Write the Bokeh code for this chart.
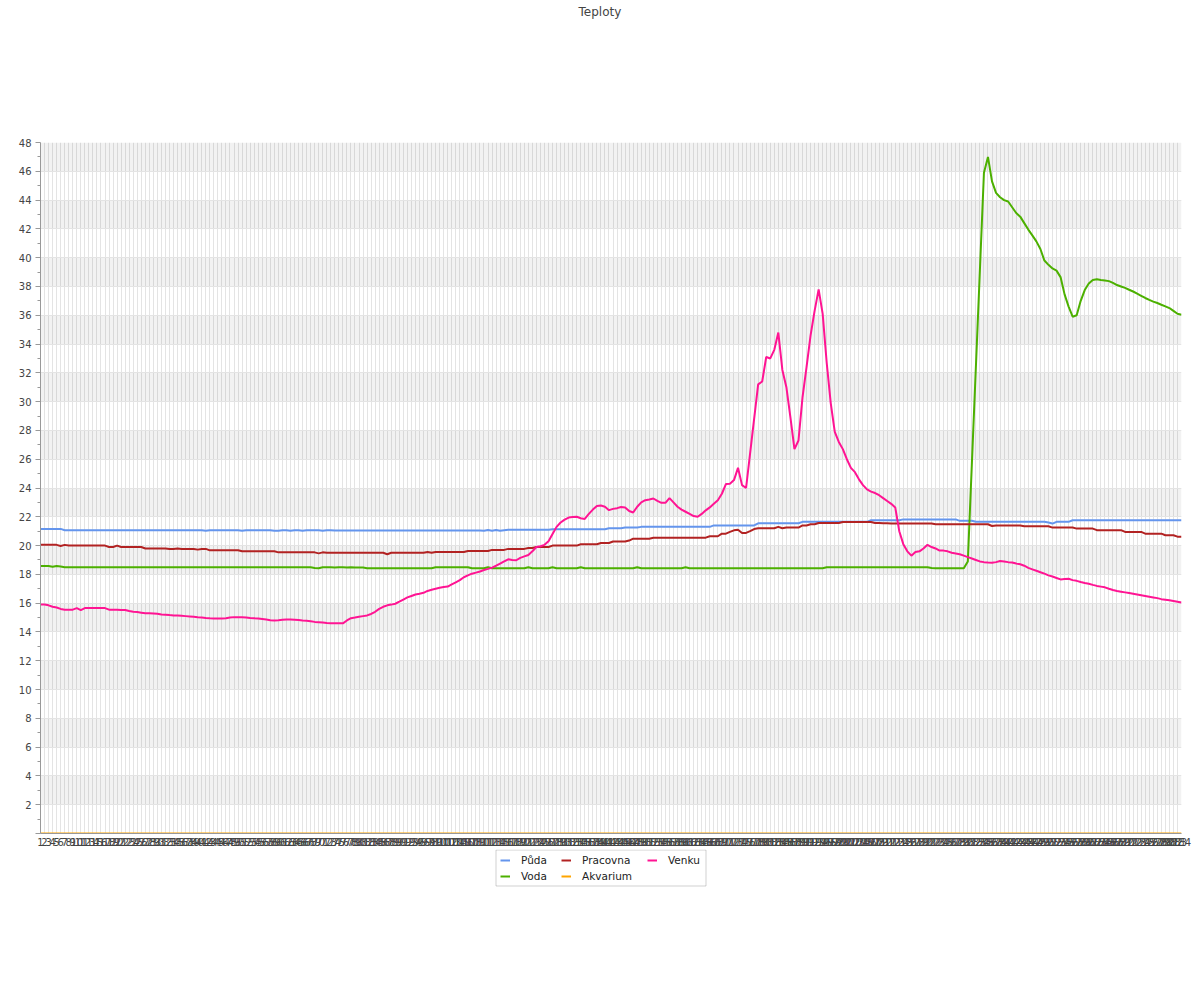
from bokeh.plotting import figure
from bokeh.layouts import column
from bokeh.models import Range1d, FixedTicker, Legend, LegendItem, Title, BoxAnnotation
from bokeh.embed import file_html
from bokeh.resources import INLINE

# categories (sample numbers) 1..284
categories = list(range(1, 285))

puda = [
    21.16, 21.16, 21.16, 21.16, 21.16, 21.16, 21.07, 21.07, 21.07, 21.07,
    21.07, 21.07, 21.07, 21.07, 21.07, 21.07, 21.07, 21.07, 21.07, 21.07,
    21.07, 21.07, 21.07, 21.07, 21.07, 21.07, 21.07, 21.07, 21.07, 21.07,
    21.07, 21.07, 21.07, 21.07, 21.07, 21.07, 21.07, 21.07, 21.07, 21.07,
    21.07, 21.03, 21.07, 21.07, 21.07, 21.07, 21.07, 21.07, 21.07, 21.07,
    21.03, 21.07, 21.07, 21.07, 21.07, 21.07, 21.07, 21.07, 21.03, 21.03,
    21.07, 21.07, 21.03, 21.07, 21.07, 21.03, 21.07, 21.07, 21.07, 21.07,
    21.03, 21.07, 21.07, 21.05, 21.05, 21.05, 21.05, 21.05, 21.05, 21.05,
    21.05, 21.05, 21.05, 21.05, 21.05, 21.05, 21.05, 21.05, 21.05, 21.05,
    21.05, 21.05, 21.05, 21.05, 21.05, 21.05, 21.05, 21.05, 21.05, 21.05,
    21.05, 21.05, 21.05, 21.05, 21.05, 21.05, 21.05, 21.05, 21.05, 21.05,
    21.03, 21.08, 21.03, 21.08, 21.03, 21.07, 21.1, 21.1, 21.1, 21.1,
    21.1, 21.1, 21.1, 21.1, 21.1, 21.1, 21.1, 21.13, 21.13, 21.13,
    21.13, 21.13, 21.13, 21.13, 21.13, 21.13, 21.13, 21.13, 21.13, 21.13,
    21.13, 21.2, 21.2, 21.2, 21.2, 21.25, 21.25, 21.25, 21.25, 21.3,
    21.3, 21.3, 21.3, 21.3, 21.3, 21.3, 21.3, 21.3, 21.3, 21.3,
    21.3, 21.3, 21.3, 21.3, 21.3, 21.3, 21.3, 21.4, 21.4, 21.4,
    21.4, 21.4, 21.4, 21.4, 21.4, 21.4, 21.4, 21.4, 21.55, 21.55,
    21.55, 21.55, 21.55, 21.55, 21.55, 21.55, 21.55, 21.55, 21.55, 21.65,
    21.65, 21.65, 21.65, 21.65, 21.65, 21.65, 21.65, 21.65, 21.65, 21.65,
    21.65, 21.65, 21.65, 21.65, 21.65, 21.65, 21.76, 21.76, 21.76, 21.76,
    21.76, 21.76, 21.76, 21.76, 21.82, 21.82, 21.82, 21.82, 21.82, 21.82,
    21.82, 21.82, 21.82, 21.82, 21.82, 21.82, 21.82, 21.82, 21.72, 21.72,
    21.72, 21.72, 21.65, 21.65, 21.65, 21.65, 21.65, 21.65, 21.65, 21.65,
    21.65, 21.65, 21.65, 21.65, 21.65, 21.65, 21.65, 21.65, 21.65, 21.65,
    21.6, 21.53, 21.65, 21.65, 21.65, 21.65, 21.76, 21.76, 21.76, 21.76,
    21.76, 21.76, 21.76, 21.76, 21.76, 21.76, 21.76, 21.76, 21.76, 21.76,
    21.76, 21.76, 21.76, 21.76, 21.76, 21.76, 21.76, 21.76, 21.76, 21.76,
    21.76, 21.76, 21.76, 21.76,
]

voda = [
    18.58, 18.58, 18.58, 18.53, 18.58, 18.55, 18.5, 18.5, 18.5, 18.5,
    18.5, 18.5, 18.5, 18.5, 18.5, 18.5, 18.5, 18.5, 18.5, 18.5,
    18.5, 18.5, 18.5, 18.5, 18.5, 18.5, 18.5, 18.5, 18.5, 18.5,
    18.5, 18.5, 18.5, 18.5, 18.5, 18.5, 18.5, 18.5, 18.5, 18.5,
    18.5, 18.5, 18.5, 18.5, 18.5, 18.5, 18.5, 18.5, 18.5, 18.5,
    18.5, 18.5, 18.5, 18.5, 18.5, 18.5, 18.5, 18.5, 18.5, 18.5,
    18.5, 18.5, 18.5, 18.5, 18.5, 18.5, 18.5, 18.5, 18.45, 18.42,
    18.5, 18.5, 18.5, 18.47, 18.5, 18.5, 18.47, 18.5, 18.47, 18.47,
    18.47, 18.42, 18.42, 18.42, 18.42, 18.42, 18.42, 18.42, 18.42, 18.42,
    18.42, 18.42, 18.42, 18.42, 18.42, 18.42, 18.42, 18.42, 18.5, 18.5,
    18.5, 18.5, 18.5, 18.5, 18.5, 18.5, 18.5, 18.42, 18.42, 18.42,
    18.42, 18.5, 18.42, 18.42, 18.42, 18.42, 18.42, 18.42, 18.42, 18.42,
    18.42, 18.5, 18.42, 18.42, 18.42, 18.42, 18.42, 18.5, 18.42, 18.42,
    18.42, 18.42, 18.42, 18.42, 18.5, 18.42, 18.42, 18.42, 18.42, 18.42,
    18.42, 18.42, 18.42, 18.42, 18.42, 18.42, 18.42, 18.42, 18.5, 18.42,
    18.42, 18.42, 18.42, 18.42, 18.42, 18.42, 18.42, 18.42, 18.42, 18.42,
    18.5, 18.42, 18.42, 18.42, 18.42, 18.42, 18.42, 18.42, 18.42, 18.42,
    18.42, 18.42, 18.42, 18.42, 18.42, 18.42, 18.42, 18.42, 18.42, 18.42,
    18.42, 18.42, 18.42, 18.42, 18.42, 18.42, 18.42, 18.42, 18.42, 18.42,
    18.42, 18.42, 18.42, 18.42, 18.42, 18.5, 18.5, 18.5, 18.5, 18.5,
    18.5, 18.5, 18.5, 18.5, 18.5, 18.5, 18.5, 18.5, 18.5, 18.5,
    18.5, 18.5, 18.5, 18.5, 18.5, 18.5, 18.5, 18.5, 18.5, 18.5,
    18.5, 18.44, 18.42, 18.42, 18.42, 18.42, 18.42, 18.42, 18.42, 18.42,
    18.9, 25.65, 32.4, 39.15, 45.9, 47.0, 45.3, 44.5, 44.2, 44.0,
    43.9, 43.5, 43.1, 42.85, 42.4, 41.95, 41.55, 41.13, 40.6, 39.8,
    39.5, 39.25, 39.1, 38.65, 37.45, 36.6, 35.9, 36.0, 37.0, 37.75,
    38.2, 38.45, 38.5, 38.45, 38.42, 38.37, 38.25, 38.1, 38.0, 37.9,
    37.77, 37.65, 37.5, 37.35, 37.2, 37.07, 36.95, 36.85, 36.73, 36.62,
    36.5, 36.3, 36.1, 36.03,
]

pracovna = [
    20.05, 20.05, 20.05, 20.05, 20.05, 19.97, 20.05, 20.0, 20.0, 20.0,
    20.0, 20.0, 20.0, 20.0, 20.0, 20.0, 20.0, 19.9, 19.9, 20.0,
    19.9, 19.9, 19.9, 19.9, 19.9, 19.9, 19.8, 19.8, 19.8, 19.8,
    19.8, 19.8, 19.77, 19.77, 19.8, 19.77, 19.77, 19.77, 19.77, 19.72,
    19.77, 19.77, 19.67, 19.67, 19.67, 19.67, 19.67, 19.67, 19.67, 19.67,
    19.6, 19.6, 19.6, 19.6, 19.6, 19.6, 19.6, 19.6, 19.6, 19.53,
    19.53, 19.53, 19.53, 19.53, 19.53, 19.53, 19.53, 19.53, 19.53, 19.46,
    19.53, 19.5, 19.5, 19.5, 19.5, 19.5, 19.5, 19.5, 19.5, 19.5,
    19.5, 19.5, 19.5, 19.5, 19.5, 19.5, 19.4, 19.5, 19.5, 19.5,
    19.5, 19.5, 19.5, 19.5, 19.5, 19.5, 19.55, 19.5, 19.55, 19.55,
    19.55, 19.55, 19.55, 19.55, 19.55, 19.55, 19.62, 19.62, 19.62, 19.62,
    19.62, 19.62, 19.7, 19.7, 19.7, 19.7, 19.77, 19.77, 19.77, 19.77,
    19.77, 19.83, 19.83, 19.9, 19.9, 19.9, 19.9, 20.0, 20.0, 20.0,
    20.0, 20.0, 20.0, 20.0, 20.09, 20.09, 20.09, 20.09, 20.09, 20.18,
    20.18, 20.18, 20.28, 20.28, 20.28, 20.28, 20.35, 20.48, 20.48, 20.48,
    20.48, 20.48, 20.55, 20.55, 20.55, 20.55, 20.55, 20.55, 20.55, 20.55,
    20.55, 20.55, 20.55, 20.55, 20.55, 20.55, 20.65, 20.65, 20.65, 20.83,
    20.83, 20.95, 21.06, 21.1, 20.88, 20.88, 21.0, 21.15, 21.2, 21.2,
    21.2, 21.2, 21.2, 21.3, 21.2, 21.25, 21.25, 21.25, 21.25, 21.4,
    21.4, 21.48, 21.48, 21.57, 21.57, 21.57, 21.57, 21.57, 21.57, 21.64,
    21.64, 21.64, 21.64, 21.64, 21.64, 21.64, 21.64, 21.57, 21.57, 21.55,
    21.55, 21.53, 21.53, 21.53, 21.53, 21.53, 21.53, 21.53, 21.53, 21.53,
    21.53, 21.53, 21.48, 21.48, 21.48, 21.48, 21.48, 21.48, 21.48, 21.48,
    21.48, 21.48, 21.48, 21.48, 21.48, 21.48, 21.36, 21.4, 21.4, 21.4,
    21.4, 21.4, 21.4, 21.4, 21.34, 21.34, 21.34, 21.34, 21.34, 21.34,
    21.34, 21.25, 21.25, 21.25, 21.25, 21.25, 21.25, 21.18, 21.18, 21.18,
    21.18, 21.18, 21.07, 21.07, 21.07, 21.07, 21.07, 21.07, 21.07, 20.95,
    20.95, 20.95, 20.95, 20.95, 20.83, 20.83, 20.83, 20.83, 20.83, 20.72,
    20.72, 20.72, 20.62, 20.62,
]

akvarium = [
    0, 0, 0, 0, 0, 0, 0, 0, 0, 0, 0, 0, 0, 0, 0, 0, 0, 0, 0, 0,
    0, 0, 0, 0, 0, 0, 0, 0, 0, 0, 0, 0, 0, 0, 0, 0, 0, 0, 0, 0,
    0, 0, 0, 0, 0, 0, 0, 0, 0, 0, 0, 0, 0, 0, 0, 0, 0, 0, 0, 0,
    0, 0, 0, 0, 0, 0, 0, 0, 0, 0, 0, 0, 0, 0, 0, 0, 0, 0, 0, 0,
    0, 0, 0, 0, 0, 0, 0, 0, 0, 0, 0, 0, 0, 0, 0, 0, 0, 0, 0, 0,
    0, 0, 0, 0, 0, 0, 0, 0, 0, 0, 0, 0, 0, 0, 0, 0, 0, 0, 0, 0,
    0, 0, 0, 0, 0, 0, 0, 0, 0, 0, 0, 0, 0, 0, 0, 0, 0, 0, 0, 0,
    0, 0, 0, 0, 0, 0, 0, 0, 0, 0, 0, 0, 0, 0, 0, 0, 0, 0, 0, 0,
    0, 0, 0, 0, 0, 0, 0, 0, 0, 0, 0, 0, 0, 0, 0, 0, 0, 0, 0, 0,
    0, 0, 0, 0, 0, 0, 0, 0, 0, 0, 0, 0, 0, 0, 0, 0, 0, 0, 0, 0,
    0, 0, 0, 0, 0, 0, 0, 0, 0, 0, 0, 0, 0, 0, 0, 0, 0, 0, 0, 0,
    0, 0, 0, 0, 0, 0, 0, 0, 0, 0, 0, 0, 0, 0, 0, 0, 0, 0, 0, 0,
    0, 0, 0, 0, 0, 0, 0, 0, 0, 0, 0, 0, 0, 0, 0, 0, 0, 0, 0, 0,
    0, 0, 0, 0, 0, 0, 0, 0, 0, 0, 0, 0, 0, 0, 0, 0, 0, 0, 0, 0,
    0, 0, 0, 0,
]

venku = [
    15.9, 15.9, 15.85, 15.75, 15.7, 15.6, 15.55, 15.55, 15.55, 15.66,
    15.52, 15.66, 15.66, 15.66, 15.66, 15.66, 15.66, 15.55, 15.55, 15.55,
    15.52, 15.52, 15.45, 15.4, 15.38, 15.34, 15.3, 15.3, 15.29, 15.27,
    15.22, 15.2, 15.17, 15.15, 15.14, 15.12, 15.1, 15.08, 15.05, 15.02,
    15.0, 14.97, 14.95, 14.94, 14.94, 14.94, 14.95, 15.0, 15.03, 15.03,
    15.02, 15.0, 14.97, 14.95, 14.94, 14.9, 14.86, 14.82, 14.8, 14.82,
    14.85, 14.87, 14.87, 14.85, 14.83, 14.8, 14.78, 14.74, 14.7, 14.68,
    14.65, 14.62, 14.6, 14.6, 14.6, 14.6, 14.8, 14.96, 15.0, 15.05,
    15.1, 15.15, 15.25, 15.4, 15.6, 15.75, 15.85, 15.9, 15.96, 16.1,
    16.25, 16.4, 16.5, 16.6, 16.65, 16.72, 16.85, 16.93, 17.0, 17.07,
    17.12, 17.15, 17.3, 17.45, 17.6, 17.8, 17.93, 18.05, 18.12, 18.2,
    18.3, 18.38, 18.47, 18.6, 18.75, 18.9, 19.05, 19.0, 18.98, 19.15,
    19.25, 19.35, 19.6, 19.9, 19.95, 20.05, 20.3, 20.8, 21.3, 21.6,
    21.8, 21.95, 21.98, 22.0, 21.9, 21.85, 22.2, 22.5, 22.75, 22.78,
    22.7, 22.46, 22.55, 22.6, 22.68, 22.65, 22.4, 22.3, 22.7, 23.0,
    23.15, 23.2, 23.27, 23.1, 22.97, 22.97, 23.3, 23.0, 22.7, 22.5,
    22.35, 22.2, 22.05, 22.0, 22.2, 22.45, 22.65, 22.9, 23.15, 23.6,
    24.27, 24.3, 24.55, 25.4, 24.2, 24.0, 26.4, 28.8, 31.2, 31.4,
    33.1, 33.0, 33.6, 34.8, 32.2, 31.0, 28.9, 26.7, 27.3, 30.3,
    32.4, 34.6, 36.3, 37.8, 36.1, 32.7, 29.9, 27.9, 27.2, 26.7,
    26.0, 25.4, 25.1, 24.6, 24.2, 23.9, 23.75, 23.65, 23.5, 23.3,
    23.1, 22.9, 22.65, 21.0, 20.1, 19.6, 19.3, 19.55, 19.6, 19.8,
    20.05, 19.9, 19.8, 19.65, 19.65, 19.6, 19.5, 19.45, 19.4, 19.3,
    19.2, 19.1, 19.0, 18.9, 18.85, 18.82, 18.8, 18.85, 18.93, 18.9,
    18.85, 18.82, 18.75, 18.7, 18.6, 18.45, 18.35, 18.25, 18.15, 18.05,
    17.93, 17.85, 17.75, 17.65, 17.68, 17.7, 17.6, 17.55, 17.47, 17.4,
    17.35, 17.27, 17.2, 17.15, 17.1, 17.0, 16.92, 16.85, 16.8, 16.75,
    16.7, 16.65, 16.6, 16.55, 16.5, 16.45, 16.4, 16.35, 16.28, 16.24,
    16.2, 16.15, 16.1, 16.05,
]

series_names = ["Půda", "Voda", "Pracovna", "Akvarium", "Venku"]
series_values = [puda, voda, pracovna, akvarium, venku]
series_colors = ["#6495ed", "#4cb000", "#b22222", "#ffa500", "#ff1493"]

y_ticks = list(range(0, 49, 2))
y_minor = list(range(1, 48, 2))

FONT = "DejaVu Sans"
FIG_W = 1195
BORDER_L, BORDER_R = 40, 14

p = figure(width=FIG_W, height=849, output_backend="svg", toolbar_location=None,
           x_range=Range1d(categories[0], categories[-1]), y_range=Range1d(0, 48),
           min_border_left=BORDER_L, min_border_right=BORDER_R, min_border_top=0,
           min_border_bottom=16, title="Teploty")
p.outline_line_color = None
p.background_fill_color = "white"
p.border_fill_color = "white"

p.title.align = "left"
p.title.offset = 538
p.title.vertical_align = "top"
p.title.standoff = 8
p.title.text_font = FONT
p.title.text_font_size = "12px"
p.title.text_font_style = "normal"
p.title.text_color = "#444444"

# empty spacer between the title and the plot area
spacer = Title(text=" ", text_font_size="12px", standoff=102)
p.add_layout(spacer, "above")

p.xaxis.ticker = FixedTicker(ticks=categories)
p.xaxis.axis_line_color = "#999999"
p.xaxis.major_tick_out = 0
p.xaxis.major_tick_in = 0
p.xaxis.minor_tick_out = 0
p.xaxis.minor_tick_in = 0
p.xaxis.major_label_text_font = FONT
p.xaxis.major_label_text_font_size = "10px"
p.xaxis.major_label_text_color = "#444444"
p.xaxis.major_label_standoff = 4

p.yaxis.ticker = FixedTicker(ticks=y_ticks, minor_ticks=y_minor)
p.yaxis.axis_line_color = "#999999"
p.yaxis.major_tick_line_color = "#999999"
p.yaxis.minor_tick_line_color = "#999999"
p.yaxis.major_tick_out = 5
p.yaxis.major_tick_in = 0
p.yaxis.minor_tick_out = 3
p.yaxis.minor_tick_in = 0
p.yaxis.major_label_text_font = FONT
p.yaxis.major_label_text_font_size = "10px"
p.yaxis.major_label_text_color = "#444444"
p.yaxis.major_label_overrides = {0: ""}
p.yaxis.major_label_standoff = 4

p.xgrid.ticker = FixedTicker(ticks=categories)
p.xgrid.grid_line_color = "#e4e4e4"
p.xgrid.grid_line_width = 1
p.ygrid.ticker = FixedTicker(ticks=y_ticks)
p.ygrid.grid_line_color = "#e4e4e4"
p.ygrid.band_fill_color = "black"
p.ygrid.band_fill_alpha = 0.05

for name, vals, col in zip(series_names, series_values, series_colors):
    p.line(categories, vals, line_color=col, line_width=2)

# legend strip below the chart; its plot area has the same left/right edges,
# and 1 data unit = 1 pixel measured from the plot area's left edge
FRAME_W = FIG_W - BORDER_L - BORDER_R
LG_H = 60
lg = figure(width=FIG_W, height=LG_H, output_backend="svg", toolbar_location=None,
            x_range=Range1d(0, FRAME_W), y_range=Range1d(0, LG_H),
            x_axis_location=None, y_axis_location=None,
            min_border_left=BORDER_L, min_border_right=BORDER_R, min_border_top=0,
            min_border_bottom=0)
lg.grid.visible = False
lg.outline_line_color = None
lg.background_fill_color = "white"
lg.border_fill_color = "white"
# series drawn on an off-screen range so only their legend glyphs show
lg.extra_y_ranges = {"off": Range1d(1000, 1001)}

items = {}
for name, vals, col in zip(series_names, series_values, series_colors):
    r = lg.line(categories, vals, line_color=col, line_width=2, y_range_name="off")
    items[name] = LegendItem(label=name, renderers=[r])

legend_columns = [
    (["Půda", "Voda"], 460),
    (["Pracovna", "Akvarium"], 521),
    (["Venku"], 607),
]
for names, xpos in legend_columns:
    h = 12 * len(names) + 4 * (len(names) - 1)
    leg = Legend(items=[items[n] for n in names], orientation="vertical",
                 location=(xpos, LG_H - 5 - h), border_line_color=None,
                 background_fill_alpha=0,
                 label_text_font=FONT, label_text_font_size="10.5px",
                 label_text_color="#222222",
                 glyph_width=10, glyph_height=12, label_height=12,
                 label_standoff=11, spacing=4, padding=0, margin=0)
    lg.add_layout(leg, "center")

lg.add_layout(BoxAnnotation(left=455.5, right=665.5, top=LG_H - 0.5, bottom=LG_H - 36.5,
                            fill_alpha=0, line_color="#666666", line_width=1))

layout = column(p, lg, spacing=0)
open("out.html", "w").write(file_html(layout, INLINE))
